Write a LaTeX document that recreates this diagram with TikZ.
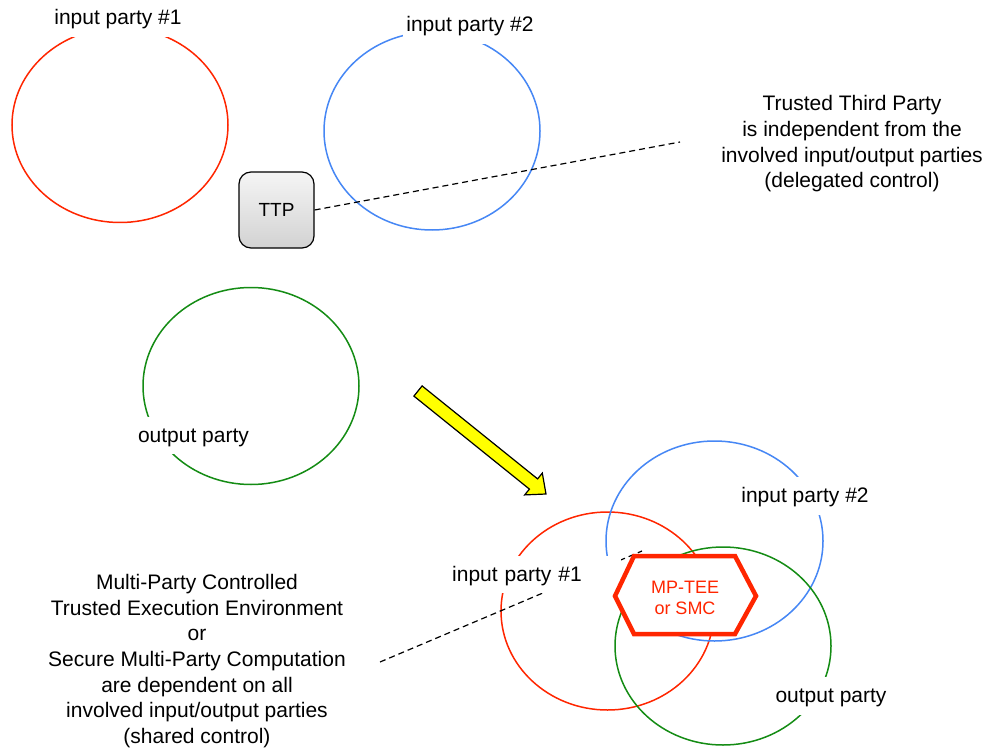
\documentclass[tikz,border=0pt]{standalone}
\usepackage{fontspec}
\setmainfont{Liberation Sans}
\usetikzlibrary{shapes.geometric}
\definecolor{pred}{RGB}{255,38,0}
\definecolor{pblue}{RGB}{70,135,245}
\definecolor{pgreen}{RGB}{20,140,20}
\definecolor{pyellow}{RGB}{255,255,0}
\tikzset{
  party/.style={ellipse, draw, line width=1.5pt, inner sep=0pt},
  lab/.style={fill=white, font=\fontsize{21}{25}\selectfont, text height=18pt, text depth=4.5pt, inner ysep=7.5pt, inner xsep=3pt},
  desc/.style={font=\fontsize{21}{25.7}\selectfont, align=center, inner sep=0pt},
  dashline/.style={draw=black, line width=1.2pt, dash pattern=on 6pt off 4pt},
  ttpbox/.style={draw=black, line width=1.2pt, rounded corners=12pt, top color=gray!8, bottom color=gray!35,
    minimum width=75pt, minimum height=76pt, font=\fontsize{19}{22}\selectfont},
  hexline/.style={draw=pred, line width=4.5pt, fill=white, line join=miter},
}
\begin{document}
\begin{tikzpicture}[x=1pt,y=-1pt]
\useasboundingbox[fill=white] (0,0) rectangle (992,751);

% upper scene ellipses
\node[party, draw=pred, minimum width=216pt, minimum height=195pt] (r1) at (120,125) {};
\node[party, draw=pblue, minimum width=216pt, minimum height=198pt] (b1) at (432,131) {};
\node[party, draw=pgreen, minimum width=216pt, minimum height=197pt] (g1) at (251,386) {};

% lower scene ellipses
\node[party, draw=pred, minimum width=213pt, minimum height=198pt] (r2) at (607.5,611) {};
\node[party, draw=pblue, minimum width=217pt, minimum height=200pt] (b2) at (714.5,541) {};
\node[party, draw=pgreen, minimum width=216pt, minimum height=198pt] (g2) at (723,646) {};

% TTP box and dashed connector
\node[ttpbox] (ttp) at (276.5,210) {TTP};
\coordinate (tend) at (680,142);
\draw[dashline] (ttp.east) -- (tend);

% lower dashed connector
\coordinate (mstart) at (380,662);
\coordinate (mend) at (642,551);
\draw[dashline] (mstart) -- (mend);

% yellow arrow
\path[draw=black, line width=1.2pt, fill=pyellow, line join=miter]
  (422.1,385.9) -- (537.6,478.9) -- (542.3,473.1) -- (546,494) -- (524.7,494.9) -- (529.4,489.1) -- (413.9,396.1) -- cycle;

% labels
\node[lab] (l1) at (118,18) {input party \#1};
\node[lab] (l2) at (470,25) {input party \#2};
\node[lab] (l3) at (193.5,435.5) {output party};
\node[lab, anchor=west, text width=163pt, align=left, inner xsep=6pt] (l4) at (446,574.5) {input party \#1};
\node[lab] (l5) at (805,496) {input party \#2};
\node[lab] (l6) at (831,696) {output party};

% hexagon
\path[hexline] (615,596) -- (634,556) -- (735,556) -- (756,596) -- (735,634) -- (634,634) -- cycle;
\node[font=\fontsize{18}{21}\selectfont, text=pred, align=center, inner sep=0pt] (mp) at (685,598) {MP-TEE\\or SMC};

% descriptions
\node[desc] (ttptext) at (852,144) {Trusted Third Party\\is independent from the\\involved input/output parties\\(delegated control)};
\node[desc] (mptext) at (197,661) {Multi-Party Controlled\\Trusted Execution Environment\\or\\Secure Multi-Party Computation\\are dependent on all\\involved input/output parties\\(shared control)};
\end{tikzpicture}
\end{document}
